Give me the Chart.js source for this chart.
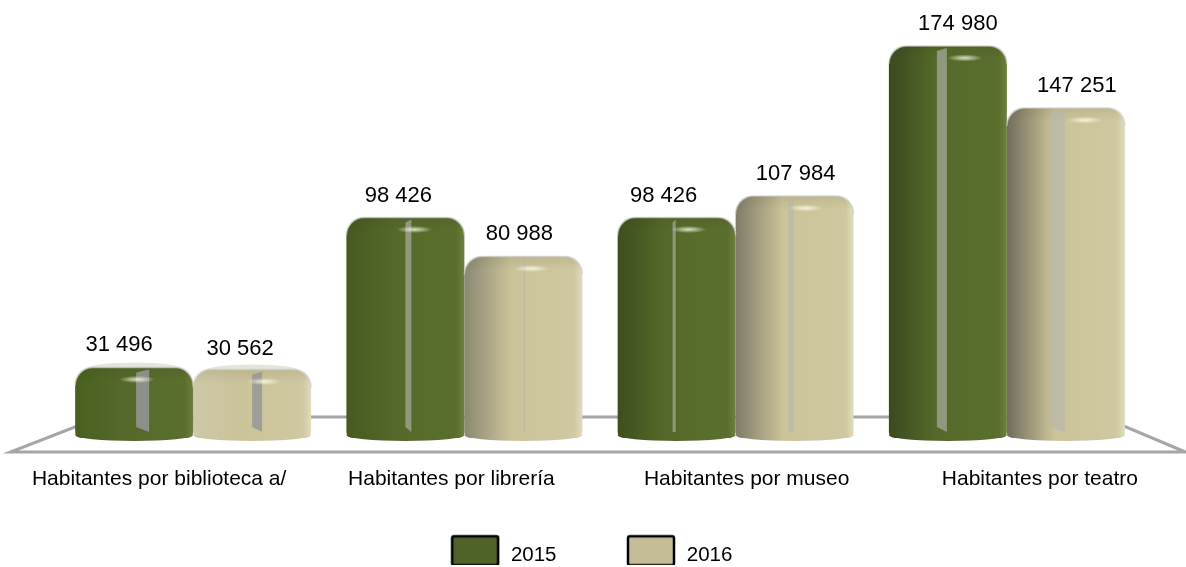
<!DOCTYPE html>
<html>
<head>
<meta charset="utf-8">
<title>Habitantes por equipamiento cultural</title>
<script src="https://cdn.jsdelivr.net/npm/chart.js@4/dist/chart.umd.min.js"></script>
<style>
  html, body { margin: 0; background: #fff; }
  canvas { display: block; }
</style>
</head>
<body>
<canvas id="myChart" width="1186" height="567"></canvas>
<script>
const categories = ['Habitantes por biblioteca a/', 'Habitantes por librería', 'Habitantes por museo', 'Habitantes por teatro'];
const years = ['2015', '2016'];
const values2015 = [31496, 98426, 98426, 174980];
const values2016 = [30562, 80988, 107984, 147251];

// the original is a 3D picture, so labels drift away from their bars
const tickShift = [-34, -13, 11, 33];
const labelShift = [[-15, -7, -13, 10], [-12, -4, 1, 11]];
const labelLift = [[22, 22, 22, 22], [21, 23, 22, 22]];
const stripes = [[[61, 13], [59, 6], [55, 3], [48, 10]], [[59, 10], [59, 2], [53, 5], [44, 14]]];
const glints = [[62, 68, 71, 76], [71, 67, 70, 78]];
const leftShade = [['#48601f', '#46591f', '#3d4f1c', '#3a4a1f'], ['#cdc8a8', '#8a8873', '#7f7c68', '#716d5c']];
const barColors = [
    { flat: '#4f6228', mid: '#55692a', right: '#5a6e2d', edge: '#6e8040' },
    { flat: '#c4bd97', mid: '#cbc399', right: '#cfc8a0', edge: '#e0dcc0' }
];
const font = 'Liberation Sans';

function swatch(color) {
    const c = document.createElement('canvas');
    c.width = 50;
    c.height = 50;
    const ctx = c.getContext('2d');
    ctx.fillStyle = color;
    ctx.strokeStyle = '#000';
    ctx.lineWidth = 2.5;
    ctx.beginPath();
    ctx.roundRect(2, 6, 46, 29, 2);
    ctx.fill();
    ctx.stroke();
    return c;
}

const cylinders = {
    id: 'cylinders',
    afterLayout(chart) {
        chart.legend.left -= 9;
        chart.legend.right -= 9;
    },
    afterDatasetsUpdate(chart) {
        chart.data.datasets.forEach((ds, d) => {
            chart.getDatasetMeta(d).data.forEach((el, i) => {
                const left = el.x - el.width / 2;
                const g = chart.ctx.createLinearGradient(left, 0, left + el.width, 0);
                g.addColorStop(0, leftShade[d][i]);
                g.addColorStop(0.4, barColors[d].mid);
                g.addColorStop(0.93, barColors[d].right);
                g.addColorStop(1, barColors[d].edge);
                el.options = { ...el.options, backgroundColor: g };
            });
        });
    },
    beforeDatasetsDraw(chart) {
        const ctx = chart.ctx;
        const { left, right, bottom } = chart.chartArea;
        // floor
        ctx.save();
        ctx.strokeStyle = '#a6a6a6';
        ctx.lineWidth = 3;
        ctx.beginPath();
        ctx.moveTo(left + 43, bottom - 21);
        ctx.lineTo(right - 40, bottom - 21);
        ctx.lineTo(right + 43, bottom + 14);
        ctx.lineTo(left - 47, bottom + 14);
        ctx.closePath();
        ctx.stroke();
        // rounded foot and pale lid of each cylinder
        chart.data.datasets.forEach((ds, d) => {
            chart.getDatasetMeta(d).data.forEach((el, i) => {
                ctx.fillStyle = el.options.backgroundColor;
                ctx.beginPath();
                ctx.ellipse(el.x, el.base - 3, el.width / 2, 6, 0, 0, Math.PI * 2);
                ctx.fill();
                if (i === 0) {
                    ctx.fillStyle = '#e4e6dc';
                    ctx.beginPath();
                    ctx.ellipse(el.x, el.y + 1, el.width / 2 - 12, 6, 0, 0, Math.PI * 2);
                    ctx.fill();
                }
            });
        });
        ctx.restore();
    },
    afterDatasetsDraw(chart) {
        const ctx = chart.ctx;
        ctx.save();
        chart.data.datasets.forEach((ds, d) => {
            chart.getDatasetMeta(d).data.forEach((el, i) => {
                const left = el.x - el.width / 2;

                // darker bevel under the top edge
                const bevel = ctx.createLinearGradient(0, el.y, 0, el.y + 14);
                bevel.addColorStop(0, 'rgba(40,40,20,0.09)');
                bevel.addColorStop(1, 'rgba(40,40,20,0)');
                ctx.fillStyle = bevel;
                ctx.beginPath();
                ctx.roundRect(left, el.y, el.width, 14, [18, 18, 0, 0]);
                ctx.fill();

                // reflection stripe
                const [dx, w] = stripes[d][i];
                ctx.fillStyle = i === 0 ? 'rgba(150,150,150,0.85)' : 'rgba(180,180,178,0.62)';
                ctx.beginPath();
                ctx.moveTo(left + dx, el.y + 5);
                ctx.lineTo(left + dx + w, el.y + 2);
                ctx.lineTo(left + dx + w, el.base - 6);
                ctx.lineTo(left + dx, el.base - 11 + (w < 6 ? 5 : 0));
                ctx.closePath();
                ctx.fill();

                // glint
                ctx.save();
                ctx.translate(left + glints[d][i], el.y + 12);
                ctx.scale(1, 0.2);
                const glint = ctx.createRadialGradient(0, 0, 0, 0, 0, 18);
                glint.addColorStop(0, 'rgba(255,255,235,0.8)');
                glint.addColorStop(1, 'rgba(255,255,235,0)');
                ctx.fillStyle = glint;
                ctx.beginPath();
                ctx.arc(0, 0, 18, 0, Math.PI * 2);
                ctx.fill();
                ctx.restore();

                // pale rim along the top only
                ctx.strokeStyle = 'rgba(205,205,200,0.7)';
                ctx.lineWidth = 1.5;
                ctx.beginPath();
                ctx.moveTo(left, el.y + 18);
                ctx.arcTo(left, el.y, left + 18, el.y, 18);
                ctx.arcTo(left + el.width, el.y, left + el.width, el.y + 18, 18);
                ctx.stroke();

                // value label
                const value = ds.data[i].toString().replace(/\B(?=(\d{3})+$)/g, ' ');
                ctx.fillStyle = '#000';
                ctx.font = '22px "' + font + '"';
                ctx.textAlign = 'center';
                ctx.textBaseline = 'middle';
                ctx.fillText(value, el.x + labelShift[d][i], el.y - labelLift[d][i]);
            });
        });
        ctx.restore();
    }
};

const data = {
    labels: categories,
    datasets: [
        { label: years[0], data: values2015, backgroundColor: barColors[0].flat },
        { label: years[1], data: values2016, backgroundColor: barColors[1].flat }
    ]
};

const config = {
    type: 'bar',
    data: data,
    plugins: [cylinders],
    options: {
        responsive: false,
        animation: false,
        events: [],
        layout: { padding: { left: 57.5, right: 43.5, top: 0, bottom: 2 } },
        datasets: {
            bar: {
                categoryPercentage: 0.87,
                barPercentage: 1,
                borderRadius: { topLeft: 18, topRight: 18, bottomLeft: 6, bottomRight: 6 },
                borderSkipped: false
            }
        },
        scales: {
            x: {
                grid: { display: false, drawTicks: false },
                border: { display: false },
                ticks: {
                    autoSkip: false,
                    maxRotation: 0,
                    // mirror stops the labels being clipped to the short axis box
                    mirror: true,
                    padding: -54,
                    color: '#000',
                    font: { family: font, size: 21 }
                },
                afterFit(scale) {
                    scale.height = 38;
                    scale.getPixelForTick = i => scale.getPixelForValue(i) + tickShift[i];
                }
            },
            y: { display: false, min: 0, max: 195500 }
        },
        plugins: {
            tooltip: { enabled: false },
            legend: {
                position: 'bottom',
                maxHeight: 89,
                labels: {
                    usePointStyle: true,
                    pointStyleWidth: 51,
                    padding: 69,
                    color: '#000',
                    font: { family: font, size: 20.5 },
                    generateLabels(chart) {
                        return Chart.defaults.plugins.legend.labels.generateLabels(chart).map((item, i) => ({
                            ...item,
                            pointStyle: swatch(barColors[i].flat)
                        }));
                    }
                }
            }
        }
    }
};

document.addEventListener('DOMContentLoaded', (event) => {
    const myChart = new Chart(document.getElementById('myChart'), config);
});
</script>
</body>
</html>
